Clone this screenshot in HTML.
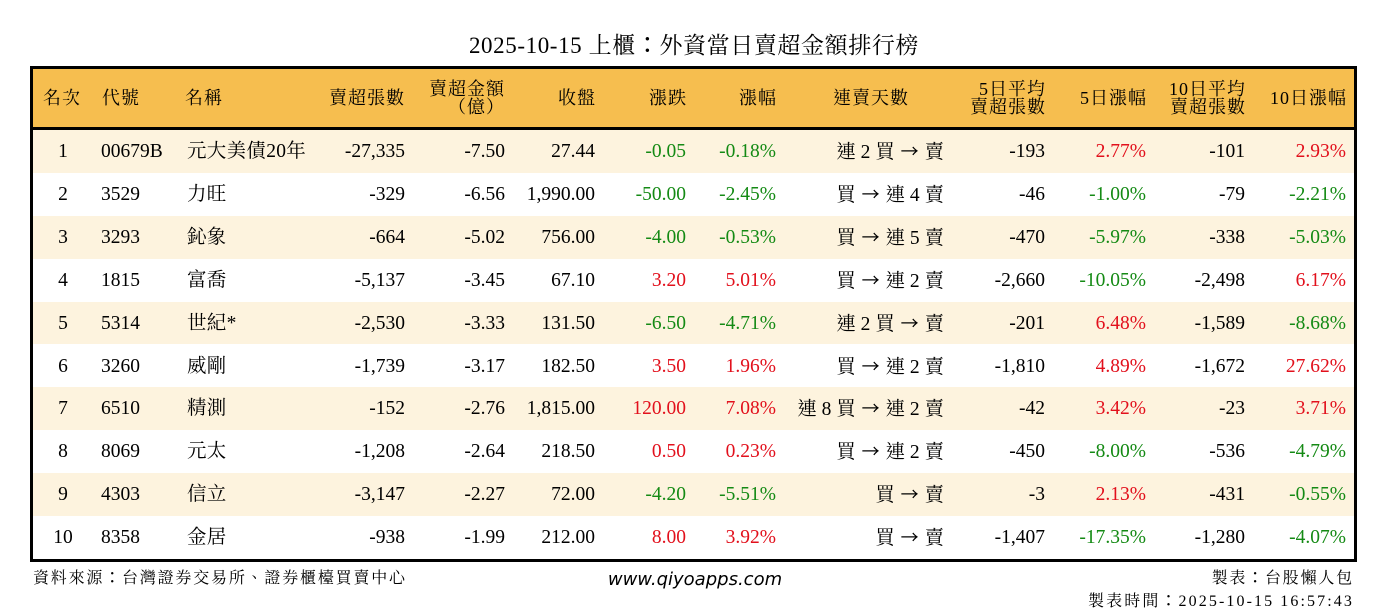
<!DOCTYPE html>
<html>
<head>
<meta charset="utf-8">
<style>
html,body{margin:0;padding:0;background:#fff;}
body{width:1388px;height:612px;position:relative;overflow:hidden;font-family:"Liberation Serif","Noto Serif CJK TC","Noto Serif CJK SC","Noto Serif CJK JP",serif;color:#000;}
.a{position:absolute;white-space:nowrap;}
.box{position:absolute;left:30px;top:66px;width:1327px;height:496px;border:3px solid #000;box-sizing:border-box;}
.hdr{position:absolute;left:33px;top:69px;width:1321px;height:58px;background:#F6BE4F;}
.hline{position:absolute;left:33px;top:127px;width:1321px;height:3px;background:#000;}
.stripe{position:absolute;left:33px;width:1321px;height:42.9px;background:#FDF3DE;}
.h{position:absolute;font-size:18px;letter-spacing:1px;white-space:nowrap;line-height:58px;top:69px;height:58px;}
.h2{position:absolute;font-size:18px;letter-spacing:1px;white-space:nowrap;line-height:18px;top:80px;text-align:right;width:200px;}
.row{position:absolute;left:0;width:1388px;height:42.9px;}
.row div{position:absolute;top:0;height:43px;line-height:43px;font-size:19.5px;white-space:nowrap;}
.c1{left:23px;width:80px;text-align:center;}
.c2{left:101px;}
.c3{left:187px;letter-spacing:0.3px;}
.c4{left:205px;width:200px;text-align:right;}
.c5{left:305px;width:200px;text-align:right;}
.c6{left:395px;width:200px;text-align:right;}
.c7{left:486px;width:200px;text-align:right;}
.c8{left:576px;width:200px;text-align:right;}
.c9{left:744px;width:200px;text-align:right;}
.c10{left:845px;width:200px;text-align:right;}
.c11{left:946px;width:200px;text-align:right;}
.c12{left:1045px;width:200px;text-align:right;}
.c13{left:1146px;width:200px;text-align:right;}
.g{color:#148A14;}
.r{color:#E2101C;}
.ar{font-family:"Noto Sans CJK TC","Noto Sans CJK JP","Noto Serif CJK SC",sans-serif;font-size:18px;margin:0 1px;}
.tc{font-family:"Noto Sans CJK TC","Noto Serif CJK TC","Noto Sans CJK JP",sans-serif;}
</style>
</head>
<body>
<div class="a" style="left:0;width:1388px;top:28px;text-align:center;font-size:23px;line-height:30px;letter-spacing:0.6px;">2025-10-15 上櫃<span class="tc">：</span>外資當日賣超金額排行榜</div>

<div class="hdr"></div>
<div class="stripe" style="top:130px"></div>
<div class="stripe" style="top:215.8px"></div>
<div class="stripe" style="top:301.6px"></div>
<div class="stripe" style="top:387.4px"></div>
<div class="stripe" style="top:473.2px"></div>
<div class="hline"></div>
<div class="box"></div>

<!-- header -->
<div class="h" style="left:43px;">名次</div>
<div class="h" style="left:102px;">代號</div>
<div class="h" style="left:185px;">名稱</div>
<div class="h" style="left:205px;width:200px;text-align:right;">賣超張數</div>
<div class="h2" style="left:305px;">賣超金額<br>（億）</div>
<div class="h" style="left:396px;width:200px;text-align:right;">收盤</div>
<div class="h" style="left:487px;width:200px;text-align:right;">漲跌</div>
<div class="h" style="left:577px;width:200px;text-align:right;">漲幅</div>
<div class="h" style="left:771px;width:200px;text-align:center;">連賣天數</div>
<div class="h2" style="left:846px;">5日平均<br>賣超張數</div>
<div class="h" style="left:947px;width:200px;text-align:right;">5日漲幅</div>
<div class="h2" style="left:1046px;">10日平均<br>賣超張數</div>
<div class="h" style="left:1147px;width:200px;text-align:right;">10日漲幅</div>

<!-- rows -->
<div class="row" style="top:130px">
<div class="c1">1</div><div class="c2">00679B</div><div class="c3">元大美債20年</div><div class="c4">-27,335</div><div class="c5">-7.50</div><div class="c6">27.44</div><div class="c7 g">-0.05</div><div class="c8 g">-0.18%</div><div class="c9">連 2 買 <span class="ar">→</span> 賣</div><div class="c10">-193</div><div class="c11 r">2.77%</div><div class="c12">-101</div><div class="c13 r">2.93%</div>
</div>
<div class="row" style="top:172.9px">
<div class="c1">2</div><div class="c2">3529</div><div class="c3">力旺</div><div class="c4">-329</div><div class="c5">-6.56</div><div class="c6">1,990.00</div><div class="c7 g">-50.00</div><div class="c8 g">-2.45%</div><div class="c9">買 <span class="ar">→</span> 連 4 賣</div><div class="c10">-46</div><div class="c11 g">-1.00%</div><div class="c12">-79</div><div class="c13 g">-2.21%</div>
</div>
<div class="row" style="top:215.8px">
<div class="c1">3</div><div class="c2">3293</div><div class="c3">鈊象</div><div class="c4">-664</div><div class="c5">-5.02</div><div class="c6">756.00</div><div class="c7 g">-4.00</div><div class="c8 g">-0.53%</div><div class="c9">買 <span class="ar">→</span> 連 5 賣</div><div class="c10">-470</div><div class="c11 g">-5.97%</div><div class="c12">-338</div><div class="c13 g">-5.03%</div>
</div>
<div class="row" style="top:258.7px">
<div class="c1">4</div><div class="c2">1815</div><div class="c3">富喬</div><div class="c4">-5,137</div><div class="c5">-3.45</div><div class="c6">67.10</div><div class="c7 r">3.20</div><div class="c8 r">5.01%</div><div class="c9">買 <span class="ar">→</span> 連 2 賣</div><div class="c10">-2,660</div><div class="c11 g">-10.05%</div><div class="c12">-2,498</div><div class="c13 r">6.17%</div>
</div>
<div class="row" style="top:301.6px">
<div class="c1">5</div><div class="c2">5314</div><div class="c3">世紀*</div><div class="c4">-2,530</div><div class="c5">-3.33</div><div class="c6">131.50</div><div class="c7 g">-6.50</div><div class="c8 g">-4.71%</div><div class="c9">連 2 買 <span class="ar">→</span> 賣</div><div class="c10">-201</div><div class="c11 r">6.48%</div><div class="c12">-1,589</div><div class="c13 g">-8.68%</div>
</div>
<div class="row" style="top:344.5px">
<div class="c1">6</div><div class="c2">3260</div><div class="c3">威剛</div><div class="c4">-1,739</div><div class="c5">-3.17</div><div class="c6">182.50</div><div class="c7 r">3.50</div><div class="c8 r">1.96%</div><div class="c9">買 <span class="ar">→</span> 連 2 賣</div><div class="c10">-1,810</div><div class="c11 r">4.89%</div><div class="c12">-1,672</div><div class="c13 r">27.62%</div>
</div>
<div class="row" style="top:387.4px">
<div class="c1">7</div><div class="c2">6510</div><div class="c3">精測</div><div class="c4">-152</div><div class="c5">-2.76</div><div class="c6">1,815.00</div><div class="c7 r">120.00</div><div class="c8 r">7.08%</div><div class="c9">連 8 買 <span class="ar">→</span> 連 2 賣</div><div class="c10">-42</div><div class="c11 r">3.42%</div><div class="c12">-23</div><div class="c13 r">3.71%</div>
</div>
<div class="row" style="top:430.3px">
<div class="c1">8</div><div class="c2">8069</div><div class="c3">元太</div><div class="c4">-1,208</div><div class="c5">-2.64</div><div class="c6">218.50</div><div class="c7 r">0.50</div><div class="c8 r">0.23%</div><div class="c9">買 <span class="ar">→</span> 連 2 賣</div><div class="c10">-450</div><div class="c11 g">-8.00%</div><div class="c12">-536</div><div class="c13 g">-4.79%</div>
</div>
<div class="row" style="top:473.2px">
<div class="c1">9</div><div class="c2">4303</div><div class="c3">信立</div><div class="c4">-3,147</div><div class="c5">-2.27</div><div class="c6">72.00</div><div class="c7 g">-4.20</div><div class="c8 g">-5.51%</div><div class="c9">買 <span class="ar">→</span> 賣</div><div class="c10">-3</div><div class="c11 r">2.13%</div><div class="c12">-431</div><div class="c13 g">-0.55%</div>
</div>
<div class="row" style="top:516.1px">
<div class="c1">10</div><div class="c2">8358</div><div class="c3">金居</div><div class="c4">-938</div><div class="c5">-1.99</div><div class="c6">212.00</div><div class="c7 r">8.00</div><div class="c8 r">3.92%</div><div class="c9">買 <span class="ar">→</span> 賣</div><div class="c10">-1,407</div><div class="c11 g">-17.35%</div><div class="c12">-1,280</div><div class="c13 g">-4.07%</div>
</div>

<!-- footer -->
<div class="a" style="left:33px;top:566px;font-size:16px;line-height:20px;letter-spacing:1.8px;">資料來源<span class="tc">：</span>台灣證券交易所、證券櫃檯買賣中心</div>
<div class="a" style="left:495px;width:400px;top:568px;text-align:center;font-family:'DejaVu Sans',sans-serif;font-style:italic;font-size:18px;line-height:24px;">www.qiyoapps.com</div>
<div class="a" style="left:1054px;width:300px;top:566px;text-align:right;font-size:16px;line-height:20px;letter-spacing:1.8px;">製表<span class="tc">：</span>台股懶人包</div>
<div class="a" style="left:954px;width:400px;top:589px;text-align:right;font-size:16px;line-height:20px;letter-spacing:2.1px;">製表時間<span class="tc">：</span>2025-10-15 16:57:43</div>
</body>
</html>
